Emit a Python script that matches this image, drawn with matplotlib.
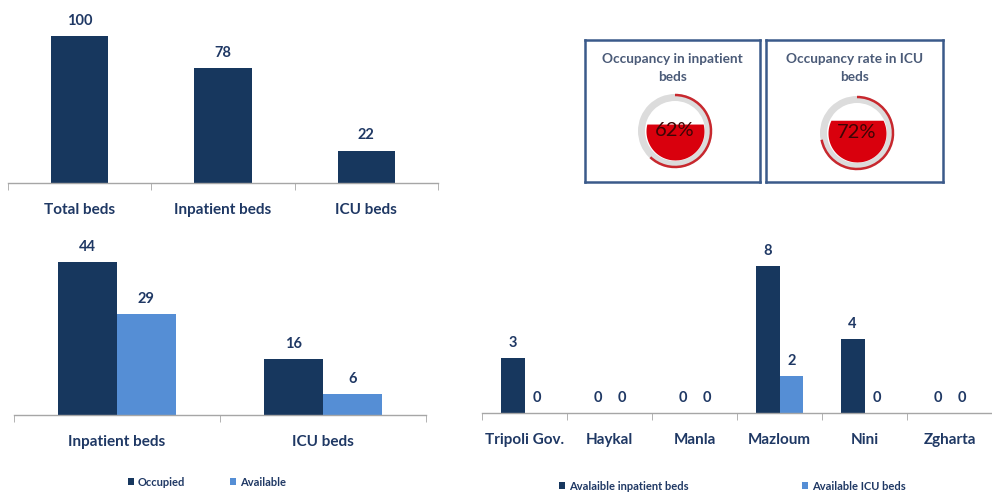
import numpy as np
import matplotlib
matplotlib.use('Agg')
import matplotlib.pyplot as plt
from matplotlib.patches import Wedge, Arc

plt.rcParams['font.family'] = ['Lato', 'DejaVu Sans']

# data
summary_labels = ['Total beds', 'Inpatient beds', 'ICU beds']
summary_values = [100, 78, 22]

status_labels = ['Inpatient beds', 'ICU beds']
occupied = [44, 16]
available = [29, 6]

hospitals = ['Tripoli Gov.', 'Haykal', 'Manla', 'Mazloum', 'Nini', 'Zgharta']
avail_inpatient = [3, 0, 0, 8, 4, 0]
avail_icu = [0, 0, 0, 2, 0, 0]

gauge_titles = ['Occupancy in inpatient\nbeds', 'Occupancy rate in ICU\nbeds']
gauge_values = [62, 72]

dark = '#17375E'
light = '#558ED5'
text_col = '#1F3864'
axis_col = '#A6A6A6'

W, H = 992, 493
fig = plt.figure(figsize=(W / 100, H / 100), dpi=100)


def px_axes(x0, y0, x1, y1):
    # axes placed using pixel coords measured from the top-left corner
    return fig.add_axes([x0 / W, 1 - y1 / H, (x1 - x0) / W, (y1 - y0) / H])


def style_bar_axes(ax, n, labels, size=11):
    for s in ['top', 'right', 'left']:
        ax.spines[s].set_visible(False)
    ax.spines['bottom'].set_color(axis_col)
    ax.spines['bottom'].set_linewidth(1)
    ax.set_yticks([])
    ax.set_xticks(np.arange(n))
    ax.set_xticklabels(labels, fontsize=size, fontweight='bold', color=text_col)
    ax.set_xticks(np.arange(n + 1) - 0.5, minor=True)
    ax.tick_params(axis='x', which='major', length=0, pad=14.5)
    ax.tick_params(axis='x', which='minor', length=5, color=axis_col, direction='out')
    ax.patch.set_alpha(0)


legend_kw = dict(ncol=2, frameon=False, prop={'size': 8, 'weight': 'bold'},
                 handlelength=0.55, handleheight=0.55, handletextpad=0.35,
                 borderpad=0, borderaxespad=0, bbox_transform=fig.transFigure)

# top-left: totals
ax1 = px_axes(8, 20, 438, 183)
x = np.arange(len(summary_labels))
b = ax1.bar(x, summary_values, width=0.4, color=dark)
ax1.bar_label(b, padding=6, fontsize=10.5, fontweight='bold', color=text_col)
ax1.set_xlim(-0.5, len(summary_labels) - 0.5)
ax1.set_ylim(0, 111)
style_bar_axes(ax1, len(summary_labels), summary_labels)

# bottom-left: occupied vs available
ax2 = px_axes(14, 240, 426, 415)
x = np.arange(len(status_labels))
bw = 0.285
b1 = ax2.bar(x - bw / 2, occupied, width=bw, color=dark, label='Occupied')
b2 = ax2.bar(x + bw / 2, available, width=bw, color=light, label='Available')
ax2.bar_label(b1, padding=6, fontsize=10.5, fontweight='bold', color=text_col)
ax2.bar_label(b2, padding=6, fontsize=10.5, fontweight='bold', color=text_col)
ax2.set_xlim(-0.5, len(status_labels) - 0.5)
ax2.set_ylim(0, 50.3)
style_bar_axes(ax2, len(status_labels), status_labels)
leg2 = ax2.legend(loc='center left', bbox_to_anchor=(128 / W, 1 - 482 / H),
                  columnspacing=4.0, **legend_kw)
for t in leg2.get_texts():
    t.set_color(text_col)

# bottom-right: available beds per hospital
ax3 = px_axes(482, 250, 992, 413)
x = np.arange(len(hospitals))
bw = 0.28
b3 = ax3.bar(x - bw / 2, avail_inpatient, width=bw, color=dark,
             label='Avalaible inpatient beds')
b4 = ax3.bar(x + bw / 2, avail_icu, width=bw, color=light,
             label='Available ICU beds')
ax3.bar_label(b3, padding=6, fontsize=10.5, fontweight='bold', color=text_col)
ax3.bar_label(b4, padding=6, fontsize=10.5, fontweight='bold', color=text_col)
ax3.set_xlim(-0.5, -0.5 + 510 / 86.7)
ax3.set_ylim(0, 8.87)
style_bar_axes(ax3, len(hospitals), hospitals)
leg3 = ax3.legend(loc='center left', bbox_to_anchor=(559 / W, 1 - 486 / H),
                  columnspacing=10.2, **legend_kw)
for t in leg3.get_texts():
    t.set_color(text_col)

# top-right: occupancy gauges
boxes = [(585, 40, 760, 182), (766, 40, 943, 182)]
centres = [(675, 131), (857, 133)]
for (x0, y0, x1, y1), title, val, (gx, gy) in zip(boxes, gauge_titles, gauge_values, centres):
    ax = px_axes(x0, y0, x1, y1)
    w, h = x1 - x0, y1 - y0
    ax.set_xlim(0, w)
    ax.set_ylim(0, h)
    ax.set_xticks([])
    ax.set_yticks([])
    for s in ax.spines.values():
        s.set_color('#3B5A8A')
        s.set_linewidth(1.8)
    ax.text(w / 2, h - 28, title, ha='center', va='center', fontsize=9.8,
            fontweight='bold', color='#4B5B78', linespacing=1.65)
    cx, cy = gx - x0, h - (gy - y0)
    p = val / 100
    ax.add_patch(Wedge((cx, cy), 37, 0, 360, width=7, color='#DCDCDC', lw=0))
    ax.add_patch(Arc((cx, cy), 72, 72, theta1=90 - 360 * p, theta2=90,
                     color='#C8282E', lw=1.8))
    r = 29
    yy = np.linspace(-r, -r + 2 * r * p, 200)
    half = np.sqrt(np.clip(r ** 2 - yy ** 2, 0, None))
    ax.fill_betweenx(cy + yy, cx - half, cx + half, color='#D9000D', lw=0)
    ax.text(cx, cy, f'{val}%', ha='center', va='center', fontsize=14.5,
            color='#3D0505')
    ax.set_aspect('equal', adjustable='box')

fig.savefig('out.png', dpi=100)
